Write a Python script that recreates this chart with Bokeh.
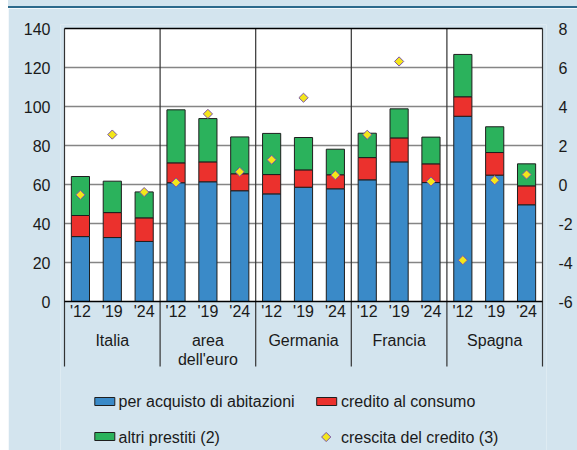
import numpy as np
from bokeh.plotting import figure
from bokeh.models import ColumnDataSource, Range1d, LinearAxis, FixedTicker, Div
from bokeh.layouts import column
from bokeh.core.properties import value
from bokeh.embed import file_html
from bokeh.resources import INLINE

# ---------------- data ----------------
countries = ["Italia", "area\ndell'euro", "Germania", "Francia", "Spagna"]
years = ["'12", "'19", "'24"]
# components of household debt, stacked
abitazioni = [33.3, 32.8, 30.8, 60.9, 61.4, 56.8, 55.2, 58.6, 57.8, 62.4, 71.6, 61.0, 95.0, 64.8, 49.6]
consumo = [10.8, 12.8, 12.1, 10.2, 10.2, 8.7, 9.9, 8.9, 7.2, 11.4, 12.3, 9.6, 10.0, 11.6, 9.7]
altri = [20.0, 16.1, 13.3, 27.2, 22.2, 18.9, 21.1, 16.6, 13.1, 12.5, 14.9, 13.7, 21.7, 13.2, 11.3]
# credit growth (right axis)
crescita = [-0.53, 2.56, -0.39, 0.10, 3.62, 0.65, 1.27, 4.45, 0.48, 2.55, 6.31, 0.15, -3.88, 0.22, 0.51]
left_ticks = [0, 20, 40, 60, 80, 100, 120, 140]
right_ticks = [-6, -4, -2, 0, 2, 4, 6, 8]
legend_labels = ["per acquisto di abitazioni", "credito al consumo",
                 "altri prestiti (2)", "crescita del credito (3)"]

# ---------------- style ----------------
BG = "#d3e4ee"
TOPLINE = "#2d6a8c"
BLUE = "#3a8ac8"
RED = "#eb312d"
GREEN = "#2bb25c"
YELLOW = "#f3e61b"
PURPLE = "#7a54a8"
OUTLINE = "#1e1e1e"
GRID = "#858585"
DIV = "#333333"
TXT = "#1a1a1a"
FONT = "Liberation Sans"
FS = "16px"

n_groups = len(countries)
n_per = len(years)
n = n_groups * n_per

# geometry in page pixels
W, H = 569, 442
FIG_X0, FIG_Y0 = 8, 8
PL, PR, PT, PB = 64, 542, 28, 301
PAD = 4
ppx = (PR - PL) / n
ppy = (PB - PT) / (left_ticks[-1] - left_ticks[0])


def dx(px):
    return (px - PL) / ppx


def dy(py):
    return left_ticks[-1] - (py - PT) / ppy


def to_r(v):
    return right_ticks[0] + (v - left_ticks[0]) * (right_ticks[-1] - right_ticks[0]) / (left_ticks[-1] - left_ticks[0])


x_range = Range1d(dx(PL - PAD), dx(PR + PAD))
y_range = Range1d(dy(FIG_Y0 + H), dy(PT - PAD))

p = figure(width=W, height=H, x_range=x_range, y_range=y_range,
           output_backend="svg", toolbar_location=None, x_axis_type=None,
           min_border_left=PL - PAD - FIG_X0, min_border_right=FIG_X0 + W - (PR + PAD),
           min_border_top=PT - PAD - FIG_Y0, min_border_bottom=0,
           background_fill_color=BG, border_fill_color=BG, outline_line_color=None,
           margin=(0, 0, 0, FIG_X0))
p.grid.visible = False
p.extra_y_ranges = {"r": Range1d(to_r(y_range.start), to_r(y_range.end))}


def style_axis(ax, standoff):
    ax.axis_line_color = None
    ax.major_tick_line_color = None
    ax.minor_tick_line_color = None
    ax.major_tick_in = 0
    ax.major_tick_out = 0
    ax.major_label_standoff = standoff
    ax.major_label_text_font = FONT
    ax.major_label_text_font_size = FS
    ax.major_label_text_color = TXT


lax = p.yaxis[0]
lax.ticker = FixedTicker(ticks=left_ticks)
style_axis(lax, 10)

rax = LinearAxis(y_range_name="r", ticker=FixedTicker(ticks=right_ticks),
                 major_label_overrides={t: str(t) for t in right_ticks})
style_axis(rax, 12)
p.add_layout(rax, "right")

# plot area
p.quad(left=[0], right=[n], bottom=[left_ticks[0]], top=[left_ticks[-1]],
       fill_color="white", line_color=None)
inner = left_ticks[1:-1]
p.segment(x0=[0] * len(inner), x1=[n] * len(inner), y0=inner, y1=inner,
          line_color=GRID, line_width=1.3)
bounds = [g * n_per for g in range(n_groups + 1)]
p.segment(x0=bounds, x1=bounds, y0=[dy(366)] * len(bounds), y1=[left_ticks[-1]] * len(bounds),
          line_color=DIV, line_width=1.2)

src = ColumnDataSource(dict(x=[i + 0.5 for i in range(n)], abitazioni=abitazioni,
                            consumo=consumo, altri=altri, crescita=crescita))
p.vbar_stack(["abitazioni", "consumo", "altri"], x="x", width=0.57, source=src,
             fill_color=[BLUE, RED, GREEN], line_color=OUTLINE, line_width=1)

p.segment(x0=[0, 0], x1=[n, n], y0=[left_ticks[0], left_ticks[-1]], y1=[left_ticks[0], left_ticks[-1]],
          line_color="black", line_width=1.3)

p.scatter(x="x", y="crescita", y_range_name="r", source=src, marker="square",
          angle=np.pi / 4, size=6.5, fill_color=YELLOW, line_color=PURPLE, line_width=1)

# category labels
p.text(x=[i + 0.5 for i in range(n)], y=[dy(311)] * n, text=years * n_groups,
       text_align="center", text_baseline="middle", text_font=value(FONT),
       text_font_size=FS, text_color=TXT)
p.text(x=[g * n_per + n_per / 2 for g in range(n_groups)], y=[dy(331)] * n_groups,
       text=countries, text_align="center", text_baseline="top", text_font=value(FONT),
       text_font_size=FS, text_color=TXT, text_line_height=1.15)

# legend (drawn manually)
p.rect(x=[dx(104.3), dx(104.3), dx(326.2)], y=[dy(401), dy(436), dy(401)],
       width=20, height=8, width_units="screen", height_units="screen",
       fill_color=[BLUE, GREEN, RED], line_color=OUTLINE, line_width=1)
p.scatter(x=[dx(325.7)], y=[dy(436.5)], marker="square", angle=np.pi / 4, size=6.5,
          fill_color=YELLOW, line_color=PURPLE, line_width=1)
p.text(x=[dx(118), dx(340.5), dx(118), dx(340.5)], y=[dy(401), dy(401), dy(436.5), dy(436.5)],
       text=legend_labels, text_align="left", text_baseline="middle",
       text_font=value(FONT), text_font_size=FS, text_color=TXT)

top = Div(text="", width=W, height=FIG_Y0, margin=(0, 0, 0, FIG_X0),
          styles={"background": f"linear-gradient(to bottom, {BG} 0px, {BG} 6px, "
                                f"{TOPLINE} 6px, {TOPLINE} 8px)"})
layout = column(top, p, spacing=0)

open("out.html", "w").write(file_html(layout, INLINE))
